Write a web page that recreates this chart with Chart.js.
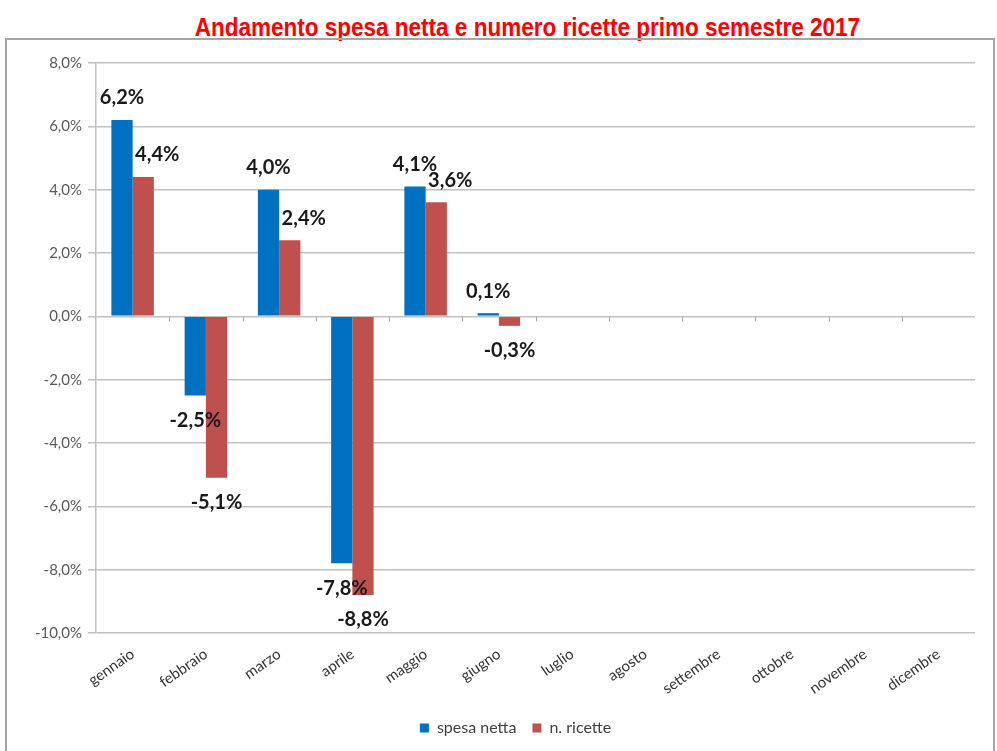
<!DOCTYPE html>
<html>
<head>
<meta charset="utf-8">
<script src="https://cdn.jsdelivr.net/npm/chart.js@4.4.0/dist/chart.umd.min.js"></script>
<style>
  body { margin: 0; width: 997px; height: 751px; overflow: hidden; background: #fff; position: relative; }
  #title { position: absolute; top: 13px; left: 58px; width: 939px; text-align: center;
    font: bold 25px "Liberation Sans", sans-serif; color: #ff0000;
    transform: scaleX(0.9); transform-origin: 469px 0; }
  #frame { position: absolute; left: 5px; top: 38px; width: 986px; height: 730px; border: 2px solid #a6a6a6; }
  #wrap { position: absolute; left: 0; top: 0; width: 997px; height: 751px; }
</style>
</head>
<body>
<div id="title">Andamento spesa netta e numero ricette primo semestre 2017</div>
<div id="frame"></div>
<div id="wrap"><canvas id="chart" width="997" height="751"></canvas></div>
<script>
const months = ['gennaio', 'febbraio', 'marzo', 'aprile', 'maggio', 'giugno',
  'luglio', 'agosto', 'settembre', 'ottobre', 'novembre', 'dicembre']
const spesaNetta = [6.2, -2.5, 4.0, -7.8, 4.1, 0.1, null, null, null, null, null, null]
const nRicette = [4.4, -5.1, 2.4, -8.8, 3.6, -0.3, null, null, null, null, null, null]
const yTicks = [8, 6, 4, 2, 0, -2, -4, -6, -8, -10]

const fmt = v => v.toFixed(1).replace('.', ',') + '%'
const FONT = 'Lato, "Open Sans", sans-serif'

// value labels above / below each bar
const barLabels = {
    id: 'barLabels',
    afterDatasetsDraw(chart){
        const ctx = chart.ctx
        ctx.save()
        ctx.font = 'bold 20px ' + FONT
        ctx.fillStyle = '#1a1a1a'
        ctx.textAlign = 'center'
        ctx.textBaseline = 'middle'
        chart.data.datasets.forEach((ds, di) => {
            chart.getDatasetMeta(di).data.forEach((bar, i) => {
                let v = ds.data[i]
                if (v == null) return
                let x = bar.x
                let y
                if (v >= 0) {
                    y = bar.y - 22
                    if (di == 1) x += 14
                } else {
                    y = bar.y + 25
                }
                ctx.fillText(fmt(v), x, y)
            })
        })
        ctx.restore()
    }
}

// small tick marks under the zero line between categories
const zeroTicks = {
    id: 'zeroTicks',
    afterDatasetsDraw(chart){
        const ctx = chart.ctx
        const x = chart.scales.x
        const y0 = chart.scales.y.getPixelForValue(0)
        const step = x.width / months.length
        ctx.save()
        ctx.strokeStyle = '#a6a6a6'
        ctx.lineWidth = 1
        for (let i = 1; i < months.length; i++) {
            let px = Math.round(x.left + step * i) + 0.5
            ctx.beginPath()
            ctx.moveTo(px, y0)
            ctx.lineTo(px, y0 + 5)
            ctx.stroke()
        }
        ctx.restore()
    }
}

// legend sits centred under the plot area, not the whole canvas
const legendShift = {
    id: 'legendShift',
    afterLayout(chart){
        chart.legend.left += 18
        chart.legend.right += 18
    }
}

const ctx = document.getElementById('chart').getContext('2d')
new Chart(ctx, {
    type: 'bar',
    data: {
        labels: months,
        datasets: [{
            label: 'spesa netta',
            data: spesaNetta,
            backgroundColor: '#0070c0',
            categoryPercentage: 0.58,
            barPercentage: 1.0
        }, {
            label: 'n. ricette',
            data: nRicette,
            backgroundColor: '#c0504d',
            categoryPercentage: 0.58,
            barPercentage: 1.0
        }]
    },
    options: {
        responsive: false,
        animation: false,
        layout: { padding: { left: 20, right: 22, top: 63, bottom: 5 } },
        plugins: {
            legend: {
                position: 'bottom',
                labels: {
                    boxWidth: 9, boxHeight: 9, padding: 16,
                    color: '#404040',
                    font: { size: 16, family: FONT }
                }
            },
            tooltip: { enabled: false }
        },
        scales: {
            y: {
                min: -10, max: 8,
                afterBuildTicks(scale){ scale.ticks = yTicks.map(v => ({ value: v })) },
                afterFit(scale){ scale.width = 76 },
                ticks: {
                    color: '#595959',
                    font: { size: 15, family: FONT },
                    padding: 6,
                    callback: v => fmt(v)
                },
                grid: { color: '#c0c0c0', tickLength: 8, lineWidth: 1.5 },
                border: { color: '#c0c0c0', width: 1.5 }
            },
            x: {
                afterFit(scale){ scale.height = 71 },
                ticks: {
                    color: '#333333',
                    font: { size: 15, family: FONT },
                    minRotation: 35, maxRotation: 35,
                    padding: 4
                },
                grid: { display: false },
                border: { display: false }
            }
        }
    },
    plugins: [barLabels, zeroTicks, legendShift]
})
</script>
</body>
</html>
